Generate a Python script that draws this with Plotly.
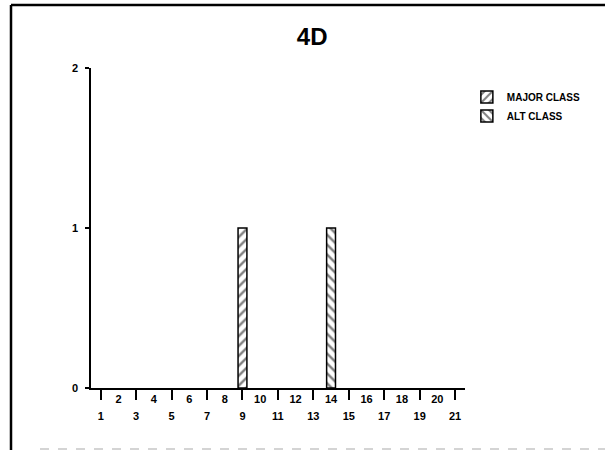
import plotly.graph_objects as go

# Class counts per position
major_x = [9]
major_y = [1]
alt_x = [14]
alt_y = [1]

positions = list(range(1, 22))
odd_ticks = [p for p in positions if p % 2 == 1]
even_ticks = [p for p in positions if p % 2 == 0]
y_ticks = [0, 1, 2]

title_text = "4D"
major_name = "MAJOR CLASS"
alt_name = "ALT CLASS"

FONT = "Liberation Sans, Arial, sans-serif"

fig = go.Figure()

fig.add_trace(go.Bar(
    x=major_x, y=major_y, name=major_name, width=0.5,
    marker=dict(color="white", line=dict(color="black", width=1.5),
                pattern=dict(shape="/", fgcolor="black", bgcolor="white",
                             size=7, solidity=0.35)),
))
fig.add_trace(go.Bar(
    x=alt_x, y=alt_y, name=alt_name, width=0.5,
    marker=dict(color="white", line=dict(color="black", width=1.5),
                pattern=dict(shape="\\", fgcolor="black", bgcolor="white",
                             size=7, solidity=0.35)),
))
# invisible trace to anchor the even-label axis
fig.add_trace(go.Scatter(x=[None], y=[None], xaxis="x2", showlegend=False,
                         hoverinfo="skip"))

fig.update_layout(
    width=605, height=450,
    margin=dict(l=91, r=140, t=68, b=62),
    paper_bgcolor="white", plot_bgcolor="white",
    barmode="overlay",
    showlegend=True,
    font=dict(family=FONT, color="black"),
    title=dict(text="<b>" + title_text + "</b>", x=0.516, xanchor="center",
               y=0.918, yanchor="middle",
               font=dict(size=24, family=FONT, color="black")),
    legend=dict(x=1.005, y=0.955, xanchor="left", yanchor="top",
                bgcolor="rgba(0,0,0,0)", traceorder="normal",
                font=dict(size=10, family=FONT, color="black", weight="bold"),
                itemwidth=30, tracegroupgap=0),
    xaxis=dict(range=[0.45, 21.56], tickmode="array", tickvals=odd_ticks,
               ticktext=[str(v) for v in odd_ticks],
               ticks="outside", ticklen=10, tickwidth=1.5, tickcolor="black",
               ticklabelstandoff=7,
               showline=True, linecolor="black", linewidth=1.5,
               showgrid=False, zeroline=False,
               tickfont=dict(size=11, family=FONT, color="black", weight="bold")),
    xaxis2=dict(range=[0.45, 21.56], overlaying="x", side="bottom",
                anchor="y", tickmode="array", tickvals=even_ticks,
                ticktext=[str(v) for v in even_ticks],
                ticks="", showline=False, showgrid=False, zeroline=False,
                ticklabelstandoff=3,
                tickfont=dict(size=11, family=FONT, color="black", weight="bold")),
    yaxis=dict(range=[0, 2], tickmode="array", tickvals=y_ticks,
               ticks="outside", ticklen=4, tickwidth=1.5, tickcolor="black",
               ticklabelstandoff=5,
               showline=True, linecolor="black", linewidth=1.5,
               showgrid=False, zeroline=False,
               tickfont=dict(size=11, family=FONT, color="black", weight="bold")),
)

# outer frame: top and left rules, faint bottom rule
fig.add_shape(type="line", xref="paper", yref="paper",
              x0=(11 - 91) / 374, x1=(605 - 91) / 374,
              y0=(388 - 5) / 320, y1=(388 - 5) / 320,
              line=dict(color="black", width=2.5))
fig.add_shape(type="line", xref="paper", yref="paper",
              x0=(11 - 91) / 374, x1=(11 - 91) / 374,
              y0=(388 - 5) / 320, y1=(388 - 450) / 320,
              line=dict(color="black", width=2.5))
fig.add_shape(type="line", xref="paper", yref="paper",
              x0=(40 - 91) / 374, x1=(605 - 91) / 374,
              y0=(388 - 449) / 320, y1=(388 - 449) / 320,
              line=dict(color="#d4d4d4", width=2, dash="dash"))

fig.write_html("out.html")
